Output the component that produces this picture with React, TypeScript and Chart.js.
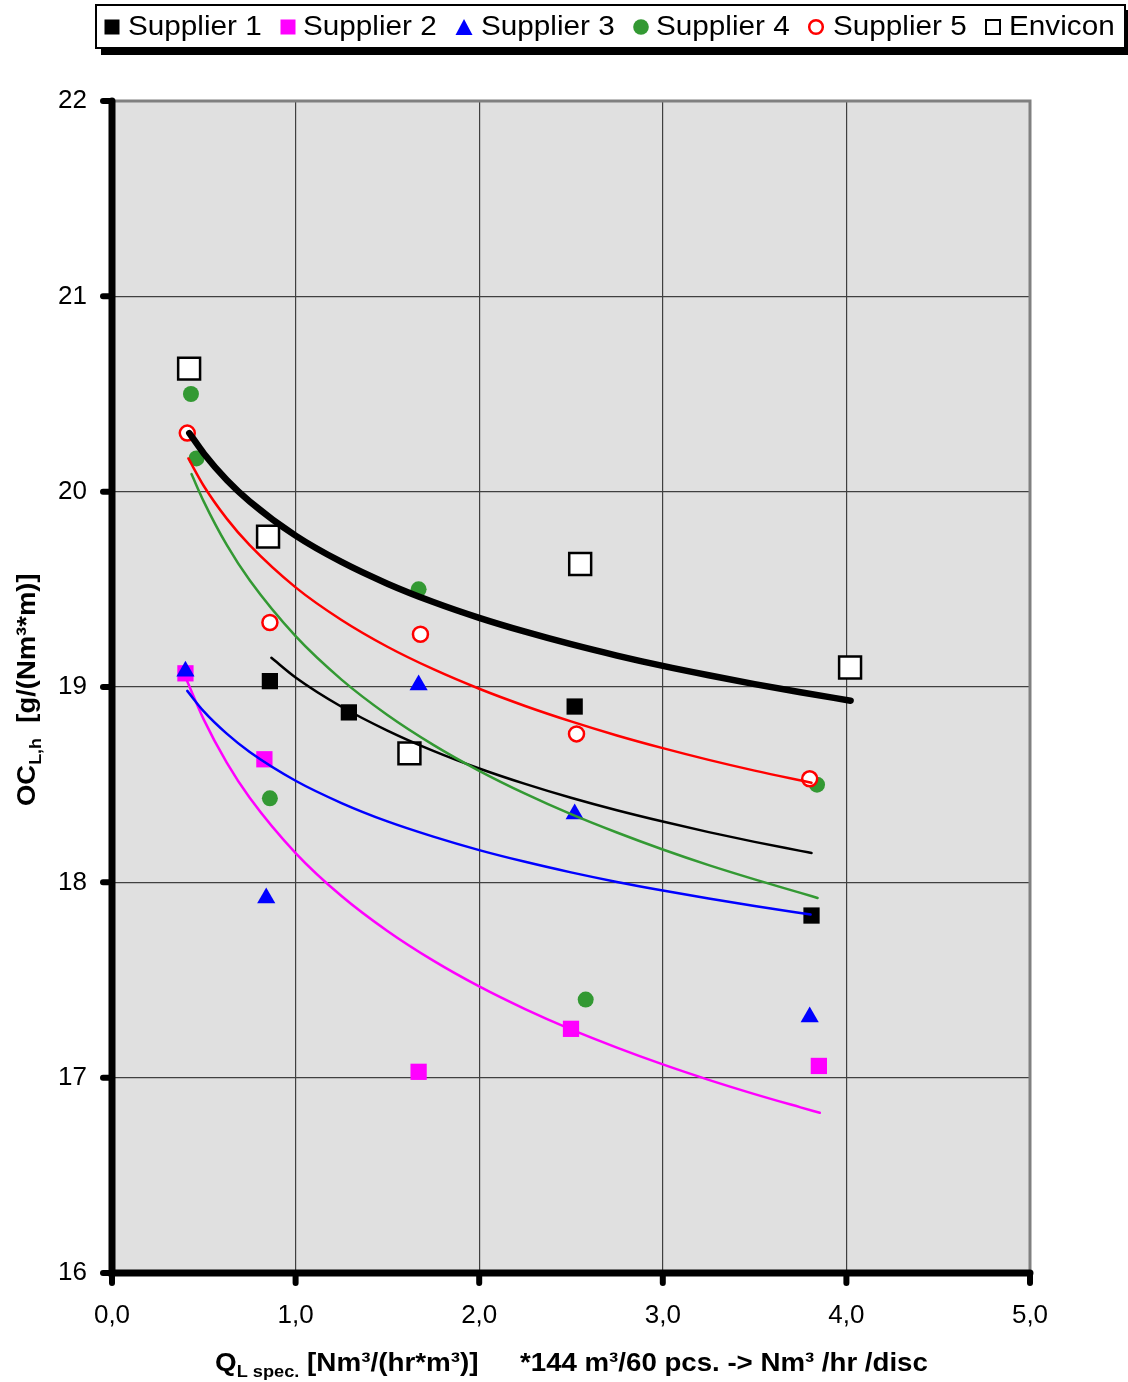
import React, { useEffect, useRef } from 'react';
import { Chart, registerables } from 'chart.js';

Chart.register(...registerables);

const FONT = '"Liberation Sans", Arial, Helvetica, sans-serif';

// ---------- DATA ----------
const seriesNames = ['Supplier 1', 'Supplier 2', 'Supplier 3', 'Supplier 4', 'Supplier 5', 'Envicon'];

const xTickLabels = ['0,0', '1,0', '2,0', '3,0', '4,0', '5,0'];
const yTickLabels = ['16', '17', '18', '19', '20', '21', '22'];

// measured points
const s1X = [0.86, 1.29, 2.52, 3.81];
const s1Y = [19.03, 18.87, 18.9, 17.83];

const s2X = [0.4, 0.83, 1.67, 2.5, 3.85];
const s2Y = [19.07, 18.63, 17.03, 17.25, 17.06];

const s3X = [0.4, 0.84, 1.67, 2.52, 3.8];
const s3Y = [19.08, 17.92, 19.01, 18.35, 17.31];

const s4X = [0.43, 0.46, 0.86, 1.67, 2.58, 3.84];
const s4Y = [20.5, 20.17, 18.43, 19.5, 17.4, 18.5];

const s5X = [0.41, 0.86, 1.68, 2.53, 3.8];
const s5Y = [20.3, 19.33, 19.27, 18.76, 18.53];

const envX = [0.42, 0.85, 1.62, 2.55, 4.02];
const envY = [20.63, 19.77, 18.66, 19.63, 19.1];

// trend curves
const t1X = [0.868, 1, 1.25, 1.5, 1.75, 2, 2.25, 2.5, 2.75, 3, 3.25, 3.5, 3.75, 3.81];
const t1Y = [19.15, 19.049, 18.899, 18.777, 18.673, 18.583, 18.504, 18.433, 18.369, 18.311, 18.257, 18.207, 18.161, 18.15];

const t2X = [0.405, 0.5, 0.625, 0.75, 1, 1.25, 1.5, 1.75, 2, 2.25, 2.5, 2.75, 3, 3.25, 3.5, 3.75, 3.855];
const t2Y = [19.04, 18.833, 18.613, 18.433, 18.15, 17.93, 17.751, 17.599, 17.467, 17.351, 17.247, 17.154, 17.068, 16.989, 16.916, 16.848, 16.82];

const t3X = [0.41, 0.5, 0.625, 0.75, 1, 1.25, 1.5, 1.75, 2, 2.25, 2.5, 2.75, 3, 3.25, 3.5, 3.805];
const t3Y = [18.98, 18.875, 18.761, 18.667, 18.52, 18.406, 18.312, 18.234, 18.165, 18.105, 18.051, 18.002, 17.958, 17.917, 17.879, 17.835];

const t4X = [0.433, 0.5, 0.625, 0.75, 1, 1.25, 1.5, 1.75, 2, 2.25, 2.5, 2.75, 3, 3.25, 3.5, 3.75, 3.843];
const t4Y = [20.09, 19.949, 19.727, 19.546, 19.26, 19.038, 18.857, 18.704, 18.571, 18.454, 18.349, 18.255, 18.168, 18.088, 18.015, 17.946, 17.92];

const t5X = [0.416, 0.5, 0.625, 0.75, 1, 1.25, 1.5, 1.75, 2, 2.25, 2.5, 2.75, 3, 3.25, 3.5, 3.81];
const t5Y = [20.17, 20.029, 19.862, 19.726, 19.51, 19.343, 19.206, 19.091, 18.991, 18.903, 18.824, 18.752, 18.687, 18.627, 18.572, 18.51];

const tEX = [0.421, 0.5, 0.625, 0.75, 1, 1.25, 1.5, 1.75, 2, 2.25, 2.5, 2.75, 3, 3.25, 3.5, 3.75, 4.023];
const tEY = [20.3, 20.196, 20.06, 19.95, 19.775, 19.64, 19.529, 19.435, 19.354, 19.283, 19.219, 19.161, 19.108, 19.06, 19.015, 18.973, 18.93];

// ---------- helpers ----------
const pts = (xs: number[], ys: number[]) => xs.map((x, i) => ({ x, y: ys[i] }));

type Run = { text: string; size: number; dy?: number };

function drawRuns(ctx: CanvasRenderingContext2D, runs: Run[], x: number, y: number, sx = 1) {
  ctx.save();
  ctx.translate(x, y);
  ctx.scale(sx, 1);
  let cx = 0;
  for (const r of runs) {
    ctx.font = `bold ${r.size}px ${FONT}`;
    ctx.fillText(r.text, cx, r.dy || 0);
    cx += ctx.measureText(r.text).width;
  }
  ctx.restore();
}

const bgPlugin = {
  id: 'plotBg',
  beforeDraw(chart: any) {
    const { ctx, chartArea: a } = chart;
    ctx.save();
    ctx.fillStyle = '#e0e0e0';
    ctx.fillRect(a.left, a.top, a.right - a.left, a.bottom - a.top);
    ctx.restore();
  },
};

const axesPlugin = {
  id: 'axesDeco',
  afterDraw(chart: any) {
    const { ctx, chartArea: a, scales } = chart;
    const xs = scales.x;
    const ys = scales.y;
    ctx.save();
    // gray frame top/right
    ctx.strokeStyle = '#808080';
    ctx.lineWidth = 3;
    ctx.beginPath();
    ctx.moveTo(a.left, a.top);
    ctx.lineTo(a.right, a.top);
    ctx.lineTo(a.right, a.bottom);
    ctx.stroke();
    // thick black axes
    ctx.strokeStyle = '#000';
    ctx.lineCap = 'round';
    ctx.lineWidth = 7;
    ctx.beginPath();
    ctx.moveTo(a.left, a.top);
    ctx.lineTo(a.left, a.bottom);
    ctx.lineTo(a.right, a.bottom);
    ctx.stroke();
    ctx.lineWidth = 6;
    ys.ticks.forEach((t: any) => {
      const py = ys.getPixelForValue(t.value);
      ctx.beginPath();
      ctx.moveTo(a.left - 9, py);
      ctx.lineTo(a.left, py);
      ctx.stroke();
    });
    xs.ticks.forEach((t: any) => {
      const px = xs.getPixelForValue(t.value);
      ctx.beginPath();
      ctx.moveTo(px, a.bottom);
      ctx.lineTo(px, a.bottom + 10);
      ctx.stroke();
    });

    // axis titles
    ctx.fillStyle = '#000';
    ctx.textBaseline = 'alphabetic';
    ctx.textAlign = 'left';
    drawRuns(
      ctx,
      [
        { text: 'Q', size: 26 },
        { text: 'L spec.', size: 17, dy: 6 },
        { text: ' [Nm³/(hr*m³)]', size: 26 },
      ],
      215,
      1371,
      1.07
    );
    drawRuns(ctx, [{ text: '*144 m³/60 pcs. -> Nm³ /hr /disc', size: 26 }], 520, 1371, 1.063);

    ctx.save();
    ctx.translate(35, 806);
    ctx.rotate(-Math.PI / 2);
    drawRuns(
      ctx,
      [
        { text: 'OC', size: 26 },
        { text: 'L,h', size: 17, dy: 6 },
        { text: '  [g/(Nm³*m)]', size: 26 },
      ],
      0,
      0,
      1.055
    );
    ctx.restore();
    ctx.restore();
  },
};

// ---------- legend ----------
function Marker({ kind }: { kind: number }) {
  const s = 18;
  let el: any = null;
  if (kind === 0) el = <rect x={1.5} y={1.5} width={15} height={15} fill="#000" />;
  if (kind === 1) el = <rect x={1.5} y={1.5} width={15} height={15} fill="#ff00ff" />;
  if (kind === 2) el = <polygon points="9,1 17.5,17 0.5,17" fill="#0000ff" />;
  if (kind === 3) el = <circle cx={9} cy={9} r={7.8} fill="#339933" />;
  if (kind === 4) el = <circle cx={9} cy={9} r={6.8} fill="#fff" stroke="#ff0000" strokeWidth={2.5} />;
  if (kind === 5) el = <rect x={2} y={2} width={14} height={14} fill="#fff" stroke="#000" strokeWidth={2} />;
  return (
    <svg width={s} height={s} style={{ display: 'block' }}>
      {el}
    </svg>
  );
}

const markerLeft = [103, 279, 455, 632, 807, 984];
const textLeft = [128, 303, 481, 656, 833, 1009];

function Legend() {
  return (
    <div
      style={{
        position: 'absolute',
        left: 95,
        top: 4,
        width: 1027,
        height: 41,
        border: '2px solid #000',
        background: '#fff',
        boxShadow: '6px 6px 0 #000',
      }}
    >
      {seriesNames.map((n, i) => (
        <React.Fragment key={n}>
          <div style={{ position: 'absolute', left: markerLeft[i] - 97, top: 12 }}>
            <Marker kind={i} />
          </div>
          <div
            style={{
              position: 'absolute',
              left: textLeft[i] - 97,
              top: 0,
              height: 41,
              display: 'flex',
              alignItems: 'center',
              fontFamily: FONT,
              fontSize: 27,
              color: '#000',
              whiteSpace: 'nowrap',
              transform: 'scaleX(1.1)',
              transformOrigin: 'left center',
            }}
          >
            {n}
          </div>
        </React.Fragment>
      ))}
    </div>
  );
}

export default function App() {
  const ref = useRef<HTMLCanvasElement | null>(null);

  useEffect(() => {
    if (!ref.current) return;
    Chart.defaults.font.family = FONT;
    const scatter = (data: any, style: string, radius: number, bg: string, border: string, bw: number, order: number) => ({
      type: 'scatter' as const,
      data,
      showLine: false,
      pointStyle: style,
      pointRadius: radius,
      pointHoverRadius: radius,
      backgroundColor: bg,
      borderColor: border,
      borderWidth: bw,
      order,
    });
    const trend = (data: any, color: string, width: number, order: number) => ({
      type: 'scatter' as const,
      data,
      showLine: true,
      pointRadius: 0,
      pointHoverRadius: 0,
      borderColor: color,
      backgroundColor: color,
      borderWidth: width,
      borderCapStyle: 'round',
      borderJoinStyle: 'round',
      cubicInterpolationMode: 'monotone',
      fill: false,
      order,
    });

    const chart = new Chart(ref.current, {
      type: 'scatter',
      data: {
        datasets: [
          scatter(pts(s1X, s1Y), 'rect', 11.5, '#000', '#000', 0, 26),
          scatter(pts(s2X, s2Y), 'rect', 11.5, '#ff00ff', '#ff00ff', 0, 25),
          scatter(pts(s3X, s3Y), 'triangle', 10.5, '#0000ff', '#0000ff', 0, 24),
          scatter(pts(s4X, s4Y), 'circle', 8, '#339933', '#339933', 0, 23),
          scatter(pts(s5X, s5Y), 'circle', 7.5, '#ffffff', '#ff0000', 2.5, 22),
          scatter(pts(envX, envY), 'rect', 15.5, '#ffffff', '#000000', 2.5, 21),
          trend(pts(t1X, t1Y), '#000000', 2.5, 16),
          trend(pts(t2X, t2Y), '#ff00ff', 2.5, 15),
          trend(pts(t3X, t3Y), '#0000ff', 2.5, 14),
          trend(pts(t4X, t4Y), '#339933', 2.5, 13),
          trend(pts(t5X, t5Y), '#ff0000', 2.5, 12),
          trend(pts(tEX, tEY), '#000000', 6.5, 11),
        ] as any,
      },
      options: {
        responsive: false,
        animation: false,
        events: [],
        layout: { padding: { top: 101, right: 98, left: 0, bottom: 0 } },
        plugins: {
          legend: { display: false },
          tooltip: { enabled: false },
          title: { display: false },
        },
        scales: {
          x: {
            type: 'linear',
            min: 0,
            max: 5,
            afterFit: (s: any) => {
              s.height = 109;
            },
            ticks: {
              stepSize: 1,
              padding: 17,
              color: '#000',
              font: { size: 26, family: FONT },
              callback: (_v: any, i: number) => xTickLabels[i],
              maxRotation: 0,
            },
            grid: {
              color: '#404040',
              lineWidth: 1.2,
              drawTicks: true,
              tickLength: 10,
              tickColor: 'rgba(0,0,0,0)',
            },
            border: { display: false },
          },
          y: {
            type: 'linear',
            min: 16,
            max: 22,
            afterFit: (s: any) => {
              s.width = 112;
            },
            ticks: {
              stepSize: 1,
              padding: 16,
              color: '#000',
              font: { size: 26, family: FONT },
              callback: (_v: any, i: number) => yTickLabels[i],
            },
            grid: {
              color: '#404040',
              lineWidth: 1.2,
              drawTicks: true,
              tickLength: 9,
              tickColor: 'rgba(0,0,0,0)',
            },
            border: { display: false },
          },
        },
      },
      plugins: [bgPlugin, axesPlugin],
    } as any);
    return () => chart.destroy();
  }, []);

  return (
    <div style={{ position: 'absolute', left: 0, top: 0, width: 1128, height: 1382, background: '#fff' }}>
      <canvas ref={ref} width={1128} height={1382} style={{ display: 'block', width: 1128, height: 1382 }} />
      <Legend />
    </div>
  );
}
